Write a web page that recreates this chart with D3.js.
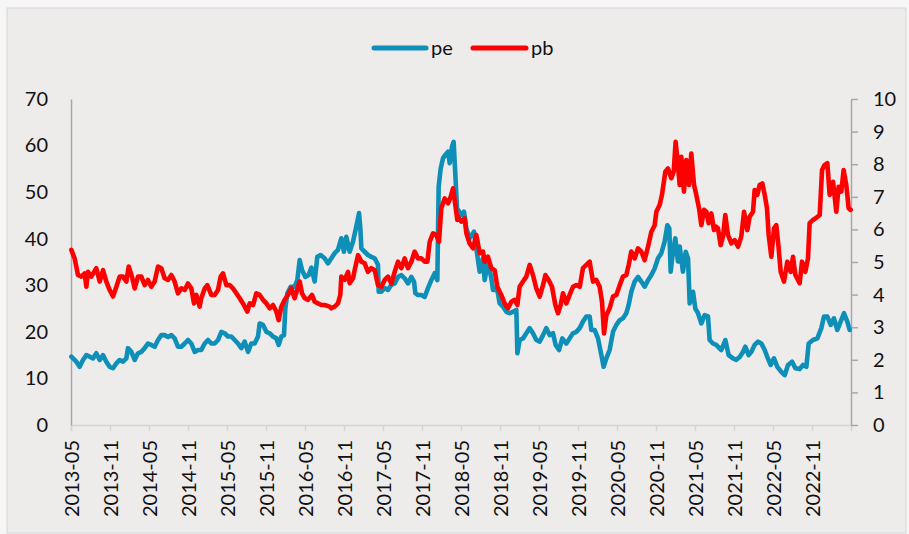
<!DOCTYPE html>
<html>
<head>
<meta charset="utf-8">
<script src="https://cdn.jsdelivr.net/npm/d3@7/dist/d3.min.js"></script>
<style>
  html, body { margin: 0; padding: 0; background: #f6f6f6; }
  svg { display: block; }
  text { font-family: Lato, "Open Sans", sans-serif; fill: #111; }
</style>
</head>
<body>
<svg id="chart" width="909" height="534"></svg>
<script>
// ---- data (time as decimal years) ----
const xTickLabels = ["2013-05","2013-11","2014-05","2014-11","2015-05","2015-11","2016-05","2016-11",
  "2017-05","2017-11","2018-05","2018-11","2019-05","2019-11","2020-05","2020-11","2021-05","2021-11",
  "2022-05","2022-11"];
const leftTicks = [0,10,20,30,40,50,60,70];
const rightTicks = [0,1,2,3,4,5,6,7,8,9,10];
const seriesNames = ["pe","pb"];

const peT = [2013.338,2013.402,2013.444,2013.487,2013.530,2013.573,2013.615,2013.658,2013.701,2013.744,2013.786,2013.829,2013.872,2013.915,2013.957,2014.000,2014.043,2014.064,2014.107,2014.150,2014.192,2014.235,2014.278,2014.320,2014.363,2014.406,2014.449,2014.491,2014.534,2014.577,2014.620,2014.662,2014.705,2014.748,2014.791,2014.833,2014.876,2014.919,2014.962,2015.004,2015.047,2015.090,2015.132,2015.175,2015.218,2015.261,2015.303,2015.346,2015.389,2015.432,2015.474,2015.517,2015.560,2015.603,2015.645,2015.688,2015.731,2015.752,2015.795,2015.838,2015.880,2015.923,2015.966,2015.996,2016.030,2016.064,2016.081,2016.107,2016.150,2016.201,2016.235,2016.265,2016.295,2016.338,2016.380,2016.415,2016.457,2016.491,2016.534,2016.585,2016.628,2016.671,2016.714,2016.756,2016.799,2016.833,2016.863,2016.906,2016.949,2016.991,2017.026,2017.043,2017.056,2017.098,2017.141,2017.184,2017.227,2017.269,2017.278,2017.312,2017.355,2017.397,2017.440,2017.483,2017.526,2017.568,2017.611,2017.654,2017.697,2017.731,2017.748,2017.782,2017.825,2017.868,2017.910,2017.953,2017.996,2018.030,2018.047,2018.073,2018.103,2018.132,2018.167,2018.188,2018.218,2018.239,2018.261,2018.282,2018.295,2018.338,2018.372,2018.402,2018.444,2018.500,2018.530,2018.573,2018.615,2018.637,2018.679,2018.722,2018.744,2018.799,2018.829,2018.872,2018.915,2018.957,2019.000,2019.043,2019.056,2019.085,2019.128,2019.171,2019.214,2019.256,2019.299,2019.342,2019.385,2019.427,2019.470,2019.513,2019.547,2019.590,2019.632,2019.684,2019.726,2019.769,2019.812,2019.855,2019.897,2019.940,2019.983,2020.004,2020.047,2020.090,2020.133,2020.162,2020.197,2020.239,2020.282,2020.325,2020.368,2020.410,2020.453,2020.483,2020.517,2020.560,2020.603,2020.645,2020.688,2020.731,2020.774,2020.816,2020.859,2020.902,2020.944,2020.979,2021.004,2021.021,2021.051,2021.081,2021.115,2021.137,2021.179,2021.214,2021.244,2021.265,2021.308,2021.338,2021.372,2021.415,2021.457,2021.500,2021.521,2021.564,2021.607,2021.628,2021.671,2021.722,2021.765,2021.821,2021.863,2021.906,2021.949,2021.979,2022.021,2022.056,2022.098,2022.141,2022.184,2022.227,2022.261,2022.303,2022.346,2022.389,2022.440,2022.483,2022.526,2022.577,2022.620,2022.675,2022.718,2022.761,2022.791,2022.846,2022.902,2022.953,2022.987,2023.030,2023.073,2023.115,2023.158,2023.201,2023.244,2023.286,2023.316];
const pe = [14.67,13.6,12.5,13.96,15.0,14.67,14.3,15.4,13.96,15.0,13.6,12.5,12.2,13.25,13.96,13.6,14.3,16.5,15.7,13.96,15.4,15.7,16.5,17.5,17.2,16.8,18.25,19.3,19.3,18.9,19.3,18.6,16.8,16.8,17.5,18.25,17.5,15.7,16.1,16.1,17.5,18.25,17.5,17.5,18.25,20.0,19.7,19.0,19.0,18.25,17.5,16.5,17.9,15.7,17.5,17.5,19.0,21.8,21.5,20.0,19.7,19.0,18.6,17.2,19.0,19.3,25.0,28.3,29.7,29.7,31.1,35.4,33.3,31.8,32.2,33.8,30.8,36.1,36.5,35.8,34.7,35.8,36.9,37.6,40.1,37.2,40.4,37.2,39.4,42.6,45.5,42.2,37.9,37.2,36.5,36.1,35.8,34.4,28.6,28.6,29.4,29.0,30.1,30.4,31.8,32.2,31.5,30.4,31.8,30.8,28.3,27.9,27.9,27.5,29.4,31.1,32.6,31.1,51.2,55.1,57.3,58.0,58.7,56.2,59.8,60.8,53.7,46.5,46.2,45.1,45.8,42.2,40.1,41.5,37.9,32.9,35.8,31.1,35.1,31.5,29.0,29.0,26.1,25.4,24.3,24.0,24.3,24.7,15.4,18.25,18.6,19.7,20.8,19.7,18.25,17.9,19.3,20.8,19.3,19.7,17.2,16.1,18.6,17.5,18.6,19.7,20.0,20.8,22.2,23.3,23.3,20.4,20.4,18.6,15.0,12.5,14.3,16.1,20.0,21.5,22.5,22.9,24.0,25.8,28.6,30.8,31.8,30.8,29.7,31.1,32.2,33.6,35.8,36.9,39.4,42.9,42.2,32.9,37.2,40.1,35.1,38.3,32.9,37.2,35.8,26.1,28.6,25.0,24.0,21.8,23.6,23.3,18.25,17.5,17.2,16.8,16.1,18.25,15.0,14.3,14.0,14.6,15.7,16.8,15.0,15.7,17.2,17.9,17.5,16.1,14.6,12.9,14.3,12.5,11.4,10.7,12.9,13.6,12.2,12.0,12.9,12.5,17.5,18.25,18.6,20.8,23.3,23.3,21.5,22.9,20.4,22.2,24.0,22.2,20.4];

const pbT = [2013.338,2013.380,2013.423,2013.466,2013.509,2013.530,2013.551,2013.594,2013.658,2013.701,2013.744,2013.786,2013.829,2013.872,2013.915,2013.957,2014.000,2014.043,2014.073,2014.115,2014.150,2014.192,2014.235,2014.278,2014.320,2014.363,2014.406,2014.449,2014.491,2014.534,2014.577,2014.620,2014.662,2014.705,2014.748,2014.791,2014.833,2014.876,2014.910,2014.940,2014.983,2015.004,2015.047,2015.081,2015.132,2015.175,2015.218,2015.252,2015.282,2015.325,2015.368,2015.410,2015.453,2015.496,2015.538,2015.594,2015.624,2015.667,2015.709,2015.752,2015.795,2015.838,2015.880,2015.923,2015.966,2015.996,2016.030,2016.073,2016.115,2016.158,2016.201,2016.244,2016.265,2016.295,2016.329,2016.372,2016.423,2016.457,2016.500,2016.543,2016.585,2016.650,2016.671,2016.714,2016.756,2016.786,2016.799,2016.842,2016.885,2016.906,2016.949,2016.970,2017.013,2017.056,2017.098,2017.141,2017.184,2017.227,2017.269,2017.312,2017.355,2017.397,2017.440,2017.483,2017.526,2017.568,2017.611,2017.654,2017.697,2017.739,2017.782,2017.825,2017.868,2017.902,2017.932,2017.974,2018.017,2018.051,2018.081,2018.124,2018.167,2018.201,2018.231,2018.261,2018.286,2018.295,2018.338,2018.380,2018.402,2018.444,2018.487,2018.530,2018.573,2018.615,2018.637,2018.679,2018.722,2018.765,2018.799,2018.850,2018.893,2018.936,2018.979,2019.021,2019.056,2019.085,2019.128,2019.171,2019.214,2019.256,2019.299,2019.342,2019.385,2019.415,2019.457,2019.500,2019.543,2019.577,2019.611,2019.641,2019.684,2019.726,2019.769,2019.812,2019.855,2019.897,2019.940,2019.983,2019.996,2020.026,2020.068,2020.111,2020.141,2020.167,2020.197,2020.239,2020.282,2020.325,2020.368,2020.410,2020.453,2020.483,2020.517,2020.560,2020.603,2020.645,2020.688,2020.731,2020.774,2020.816,2020.838,2020.880,2020.910,2020.953,2020.987,2021.030,2021.060,2021.085,2021.107,2021.137,2021.158,2021.192,2021.222,2021.256,2021.286,2021.321,2021.350,2021.385,2021.415,2021.449,2021.479,2021.509,2021.543,2021.577,2021.607,2021.628,2021.662,2021.692,2021.722,2021.756,2021.799,2021.842,2021.885,2021.927,2021.962,2022.004,2022.034,2022.077,2022.098,2022.132,2022.162,2022.197,2022.227,2022.256,2022.278,2022.312,2022.346,2022.376,2022.406,2022.432,2022.474,2022.517,2022.560,2022.590,2022.620,2022.675,2022.705,2022.748,2022.782,2022.803,2022.846,2022.880,2022.932,2022.962,2022.996,2023.030,2023.060,2023.103,2023.145,2023.175,2023.209,2023.239,2023.273,2023.303,2023.329];
const pb = [5.37,5.11,4.60,4.55,4.65,4.24,4.70,4.55,4.81,4.40,4.75,4.40,4.14,3.94,4.24,4.55,4.55,4.40,4.86,4.55,4.19,4.55,4.55,4.29,4.45,4.24,4.40,4.86,4.81,4.50,4.45,4.60,4.40,4.04,4.19,4.14,4.34,4.19,3.73,3.99,3.63,3.89,4.19,4.29,3.99,3.99,4.14,4.55,4.65,4.29,4.29,4.19,4.04,3.89,3.73,3.48,3.73,3.68,4.04,3.99,3.84,3.73,3.58,3.68,3.48,3.22,3.63,3.84,3.99,4.19,3.89,4.24,4.40,4.04,3.89,3.84,3.99,3.78,3.73,3.68,3.68,3.63,3.58,3.63,3.73,3.99,4.55,4.45,4.70,4.35,4.50,4.75,5.21,5.01,4.96,4.70,4.81,4.75,4.29,4.24,4.45,4.55,4.34,4.70,5.01,4.81,5.11,4.81,5.01,5.32,5.11,5.11,5.01,5.01,5.62,5.88,5.83,5.62,6.65,6.95,6.80,7.00,7.26,6.75,6.29,6.39,6.24,6.34,5.88,5.57,5.42,5.83,5.27,5.32,5.01,5.16,4.81,4.75,4.24,3.99,3.73,3.58,3.78,3.84,3.68,4.24,4.40,4.55,4.91,4.60,4.19,3.94,4.29,4.60,4.45,4.24,3.68,3.43,3.68,4.04,3.73,3.99,4.24,4.29,4.24,4.81,4.91,5.01,4.81,4.40,4.45,4.24,3.78,2.81,3.37,3.58,3.94,3.99,4.29,4.55,4.60,4.91,5.32,5.11,5.42,5.32,5.06,5.47,5.93,6.13,6.54,6.75,7.06,7.77,7.87,7.57,7.77,8.69,8.18,7.36,8.23,7.16,8.13,7.36,8.33,7.36,7.06,6.65,6.13,6.60,6.54,6.19,6.49,5.98,6.08,6.03,5.52,5.78,6.44,5.83,5.57,5.67,5.47,5.78,6.54,5.98,6.39,6.54,7.21,7.06,7.36,7.41,7.06,6.65,5.83,5.16,6.03,6.13,5.42,4.70,4.40,5.01,4.70,5.16,4.60,4.35,5.01,4.70,5.11,6.19,6.29,6.34,6.44,7.82,7.98,8.03,7.06,7.46,6.54,7.31,7.16,7.82,7.36,6.65,6.60];

// ---- layout ----
const W = 909, H = 534;
const plot = { left: 71, right: 851, top: 99, bottom: 425 };
const colors = { pe: "#0d8fb8", pb: "#ff0000" };

const svg = d3.select("#chart");

// chart background
svg.append("rect").attr("x", 7).attr("y", 8).attr("width", W - 10).attr("height", H - 9)
  .attr("fill", "#eeebeb").attr("stroke", "#d6d6d6").attr("stroke-width", 1);

const tickTime = s => { const [y, m] = s.split("-").map(Number); return y + (m - 1) / 12; };

const x = d3.scaleLinear().domain([2013 + 4 / 12, 2023 + 4 / 12]).range([plot.left, plot.right]);
const yL = d3.scaleLinear().domain([0, 70]).range([plot.bottom, plot.top]);
const yR = d3.scaleLinear().domain([0, 10]).range([plot.bottom, plot.top]);

// x axis
const xAxis = d3.axisBottom(x).tickValues(xTickLabels.map(tickTime))
  .tickFormat((d, i) => xTickLabels[i]).tickSizeOuter(0).tickSize(6).tickPadding(8);
const gx = svg.append("g").attr("transform", `translate(0,${plot.bottom})`).call(xAxis);
gx.select(".domain").attr("stroke", "#d4d4d4").attr("stroke-width", 1.5);
gx.selectAll(".tick line").attr("stroke", "#d4d4d4").attr("stroke-width", 1.5);
gx.selectAll(".tick text")
  .attr("font-size", 20).attr("fill", "#111")
  .attr("transform", "rotate(-90)")
  .attr("text-anchor", "end")
  .attr("x", -15).attr("y", 0).attr("dy", "0.35em");

// left axis
const gl = svg.append("g").attr("transform", `translate(${plot.left},0)`)
  .call(d3.axisLeft(yL).tickValues(leftTicks).tickSize(0).tickPadding(23).tickSizeOuter(0));
gl.select(".domain").attr("stroke", "#a8a8a8").attr("stroke-width", 1.5);
gl.selectAll(".tick text").attr("font-size", 20).attr("fill", "#111");

// right axis
const gr = svg.append("g").attr("transform", `translate(${plot.right},0)`)
  .call(d3.axisRight(yR).tickValues(rightTicks).tickSize(7).tickPadding(15).tickSizeOuter(0));
gr.select(".domain").attr("stroke", "#a8a8a8").attr("stroke-width", 1.5);
gr.selectAll(".tick line").attr("stroke", "#a8a8a8").attr("stroke-width", 1.5);
gr.selectAll(".tick text").attr("font-size", 20).attr("fill", "#111");

svg.selectAll(".tick text").style("font-family", "Lato, 'Open Sans', sans-serif");

// lines
const peData = peT.map((t, i) => [t, pe[i]]);
const pbData = pbT.map((t, i) => [t, pb[i]]);
const linePe = d3.line().x(d => x(d[0])).y(d => yL(d[1]));
const linePb = d3.line().x(d => x(d[0])).y(d => yR(d[1]));

svg.append("path").datum(peData).attr("d", linePe)
  .attr("fill", "none").attr("stroke", colors.pe).attr("stroke-width", 4.6)
  .attr("stroke-linejoin", "round").attr("stroke-linecap", "round");
svg.append("path").datum(pbData).attr("d", linePb)
  .attr("fill", "none").attr("stroke", colors.pb).attr("stroke-width", 4.6)
  .attr("stroke-linejoin", "round").attr("stroke-linecap", "round");

// legend
const legend = svg.append("g");
const legendItems = [
  { name: seriesNames[0], color: colors.pe, x1: 374, x2: 426, tx: 431 },
  { name: seriesNames[1], color: colors.pb, x1: 473, x2: 526, tx: 531 }
];
legendItems.forEach(it => {
  legend.append("line").attr("x1", it.x1).attr("x2", it.x2).attr("y1", 48).attr("y2", 48)
    .attr("stroke", it.color).attr("stroke-width", 5).attr("stroke-linecap", "round");
  legend.append("text").attr("x", it.tx).attr("y", 55).attr("font-size", 20).text(it.name);
});
</script>
</body>
</html>
